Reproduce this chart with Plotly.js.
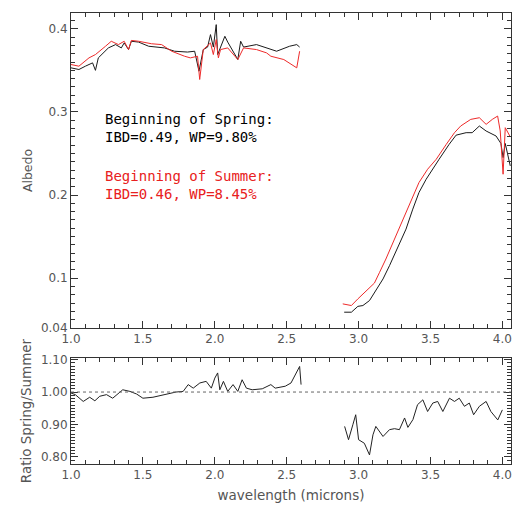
<!DOCTYPE html>
<html>
<head>
<meta charset="utf-8">
<script src="https://cdn.plot.ly/plotly-3.0.1.min.js"></script>
<style>html,body{margin:0;padding:0;background:#fff;}#chart{width:512px;height:510px;}</style>
</head>
<body>
<div id="chart"></div>
<script>
// Spring (black) albedo, near-IR segment
const springWl1 = [1.00,1.055,1.10,1.15,1.17,1.19,1.26,1.31,1.35,1.37,1.40,1.42,1.47,1.54,1.65,1.72,1.81,1.86,1.89,1.92,1.95,1.97,1.99,2.01,2.02,2.04,2.07,2.09,2.11,2.16,2.18,2.20,2.29,2.34,2.43,2.52,2.57,2.59];
const springAlb1 = [0.353,0.351,0.355,0.359,0.350,0.365,0.377,0.381,0.377,0.383,0.375,0.385,0.384,0.379,0.377,0.373,0.372,0.373,0.349,0.375,0.378,0.393,0.378,0.405,0.369,0.378,0.391,0.384,0.378,0.363,0.385,0.378,0.381,0.378,0.373,0.379,0.381,0.378];
// Summer (red) albedo, near-IR segment
const summerWl1 = [1.00,1.055,1.125,1.17,1.24,1.28,1.33,1.37,1.40,1.42,1.47,1.56,1.63,1.70,1.79,1.83,1.88,1.895,1.92,1.97,1.99,2.01,2.025,2.04,2.09,2.16,2.20,2.29,2.36,2.39,2.48,2.52,2.57,2.59];
const summerAlb1 = [0.357,0.355,0.365,0.369,0.379,0.385,0.381,0.385,0.375,0.386,0.385,0.382,0.381,0.373,0.367,0.365,0.367,0.339,0.375,0.383,0.369,0.387,0.365,0.375,0.377,0.363,0.377,0.375,0.371,0.367,0.363,0.359,0.353,0.373];
// 3-micron segment
const springWl2 = [2.90,2.95,2.995,3.03,3.076,3.12,3.17,3.215,3.26,3.33,3.377,3.42,3.47,3.505,3.56,3.63,3.678,3.748,3.79,3.84,3.887,3.956,3.99,4.005,4.02,4.055];
const springAlb2 = [0.059,0.059,0.066,0.067,0.073,0.085,0.099,0.115,0.133,0.159,0.183,0.203,0.219,0.229,0.243,0.261,0.272,0.275,0.275,0.283,0.277,0.271,0.262,0.245,0.262,0.235];
const summerWl2 = [2.89,2.95,2.995,3.053,3.11,3.146,3.19,3.25,3.31,3.366,3.42,3.48,3.54,3.61,3.667,3.71,3.78,3.84,3.887,3.93,3.967,3.985,4.005,4.02,4.055];
const summerAlb2 = [0.069,0.067,0.075,0.085,0.094,0.107,0.123,0.147,0.171,0.195,0.215,0.231,0.243,0.261,0.275,0.283,0.291,0.293,0.285,0.291,0.295,0.277,0.225,0.281,0.270];
// Ratio Spring/Summer
const ratioWl1 = [1.0,1.03,1.085,1.13,1.166,1.2,1.247,1.29,1.36,1.41,1.456,1.5,1.57,1.64,1.687,1.73,1.78,1.815,1.85,1.896,1.94,1.976,2.0,2.02,2.035,2.06,2.09,2.127,2.16,2.19,2.22,2.26,2.33,2.39,2.42,2.49,2.53,2.56,2.59,2.6];
const ratio1 = [0.997,0.992,0.971,0.984,0.973,0.987,0.992,0.981,1.007,1.002,0.994,0.981,0.984,0.992,0.997,1.0,1.002,1.023,1.012,1.028,1.033,1.012,1.043,1.059,1.007,1.033,1.002,1.023,1.002,1.038,1.012,1.007,1.01,1.023,1.012,1.018,1.028,1.054,1.079,1.023];
const ratioWl2 = [2.903,2.93,2.96,2.98,3.0,3.04,3.076,3.1,3.12,3.17,3.215,3.25,3.284,3.32,3.343,3.378,3.41,3.447,3.48,3.516,3.55,3.586,3.632,3.667,3.7,3.736,3.77,3.8,3.84,3.887,3.92,3.968,4.0];
const ratio2 = [0.894,0.853,0.899,0.930,0.853,0.842,0.806,0.868,0.894,0.863,0.884,0.887,0.884,0.920,0.891,0.915,0.961,0.976,0.940,0.966,0.971,0.940,0.981,0.971,0.981,0.956,0.966,0.930,0.956,0.971,0.940,0.914,0.945];

const xTicks = [1.0,1.5,2.0,2.5,3.0,3.5,4.0];
const albTicks = [0.04,0.1,0.2,0.3,0.4];
const albTickText = ['0.04','0.1','0.2','0.3','0.4'];
const ratioTicks = [0.8,0.9,1.0,1.1];
const ratioTickText = ['0.80','0.90','1.00','1.10'];
const texts = ['Beginning of Spring:<br>IBD=0.49, WP=9.80%','Beginning of Summer:<br>IBD=0.46, WP=8.45%'];

const join = (a,b)=>a.concat([null],b);
const blackC = '#1a1a1a', redC = '#ee2a2a';
const traces = [
  {x: join(springWl1, springWl2), y: join(springAlb1, springAlb2), xaxis:'x', yaxis:'y', mode:'lines', line:{color:blackC,width:1}, connectgaps:false},
  {x: join(summerWl1, summerWl2), y: join(summerAlb1, summerAlb2), xaxis:'x', yaxis:'y', mode:'lines', line:{color:redC,width:1}, connectgaps:false},
  {x: join(ratioWl1, ratioWl2), y: join(ratio1, ratio2), xaxis:'x2', yaxis:'y2', mode:'lines', line:{color:'#222',width:1}, connectgaps:false}
];
const axCol = '#333', txtCol = '#555';
const fam = 'DejaVu Sans, Verdana, sans-serif';
const tickFont = {family:fam, size:12, color:txtCol};
function xax(anchor){
  return {anchor:anchor, range:[1.0,4.06], tickvals:xTicks, tickformat:'.1f', ticks:'inside', ticklen:7, tickcolor:axCol,
    showline:true, linecolor:axCol, linewidth:1, mirror:'ticks', showgrid:false, zeroline:false, tickfont:tickFont,
    minor:{dtick:0.1, tick0:1.0, ticks:'inside', ticklen:4, tickcolor:axCol, showgrid:false}};
}
const layout = {
  width:512, height:510, paper_bgcolor:'#fff', plot_bgcolor:'#fff', showlegend:false,
  margin:{l:71, r:1, t:13, b:46},
  xaxis: Object.assign(xax('y'), {domain:[0,1]}),
  xaxis2: Object.assign(xax('y2'), {domain:[0,1], title:{text:'wavelength (microns)', font:{family:fam, size:13.5, color:txtCol}, standoff:9}}),
  yaxis: {domain:[0.3016,1], anchor:'x', range:[0.04,0.419], tickvals:albTicks, ticktext:albTickText, ticks:'inside', ticklen:7, tickcolor:axCol,
    showline:true, linecolor:axCol, mirror:'ticks', showgrid:false, zeroline:false, tickfont:tickFont,
    minor:{dtick:0.01, tick0:0, ticks:'inside', ticklen:4, tickcolor:axCol, showgrid:false},
    title:{text:'Albedo', font:{family:fam, size:12.5, color:txtCol}, standoff:5}},
  yaxis2: {domain:[0,0.235], anchor:'x2', range:[0.778,1.105], tickvals:ratioTicks, ticktext:ratioTickText, ticks:'inside', ticklen:7, tickcolor:axCol,
    showline:true, linecolor:axCol, mirror:'ticks', showgrid:false, zeroline:false, tickfont:tickFont,
    minor:{dtick:0.01, tick0:0, ticks:'inside', ticklen:4, tickcolor:axCol, showgrid:false},
    title:{text:'Ratio Spring/Summer', font:{family:fam, size:13.5, color:txtCol}, standoff:6}},
  shapes: [{type:'line', xref:'x2 domain', yref:'y2', x0:0, x1:1, y0:1.0, y1:1.0, line:{color:'#666', width:1, dash:'dot'}}],
  annotations: [
    {xref:'x', yref:'y', x:1.22, y:0.281, xanchor:'left', yanchor:'middle', align:'left', showarrow:false, text:texts[0],
     font:{family:'DejaVu Sans Mono, monospace', size:14, color:'#000'}},
    {xref:'x', yref:'y', x:1.22, y:0.212, xanchor:'left', yanchor:'middle', align:'left', showarrow:false, text:texts[1],
     font:{family:'DejaVu Sans Mono, monospace', size:14, color:'#e82020'}}
  ]
};
Plotly.newPlot('chart', traces, layout, {displayModeBar:false, staticPlot:true});
</script>
</body>
</html>
